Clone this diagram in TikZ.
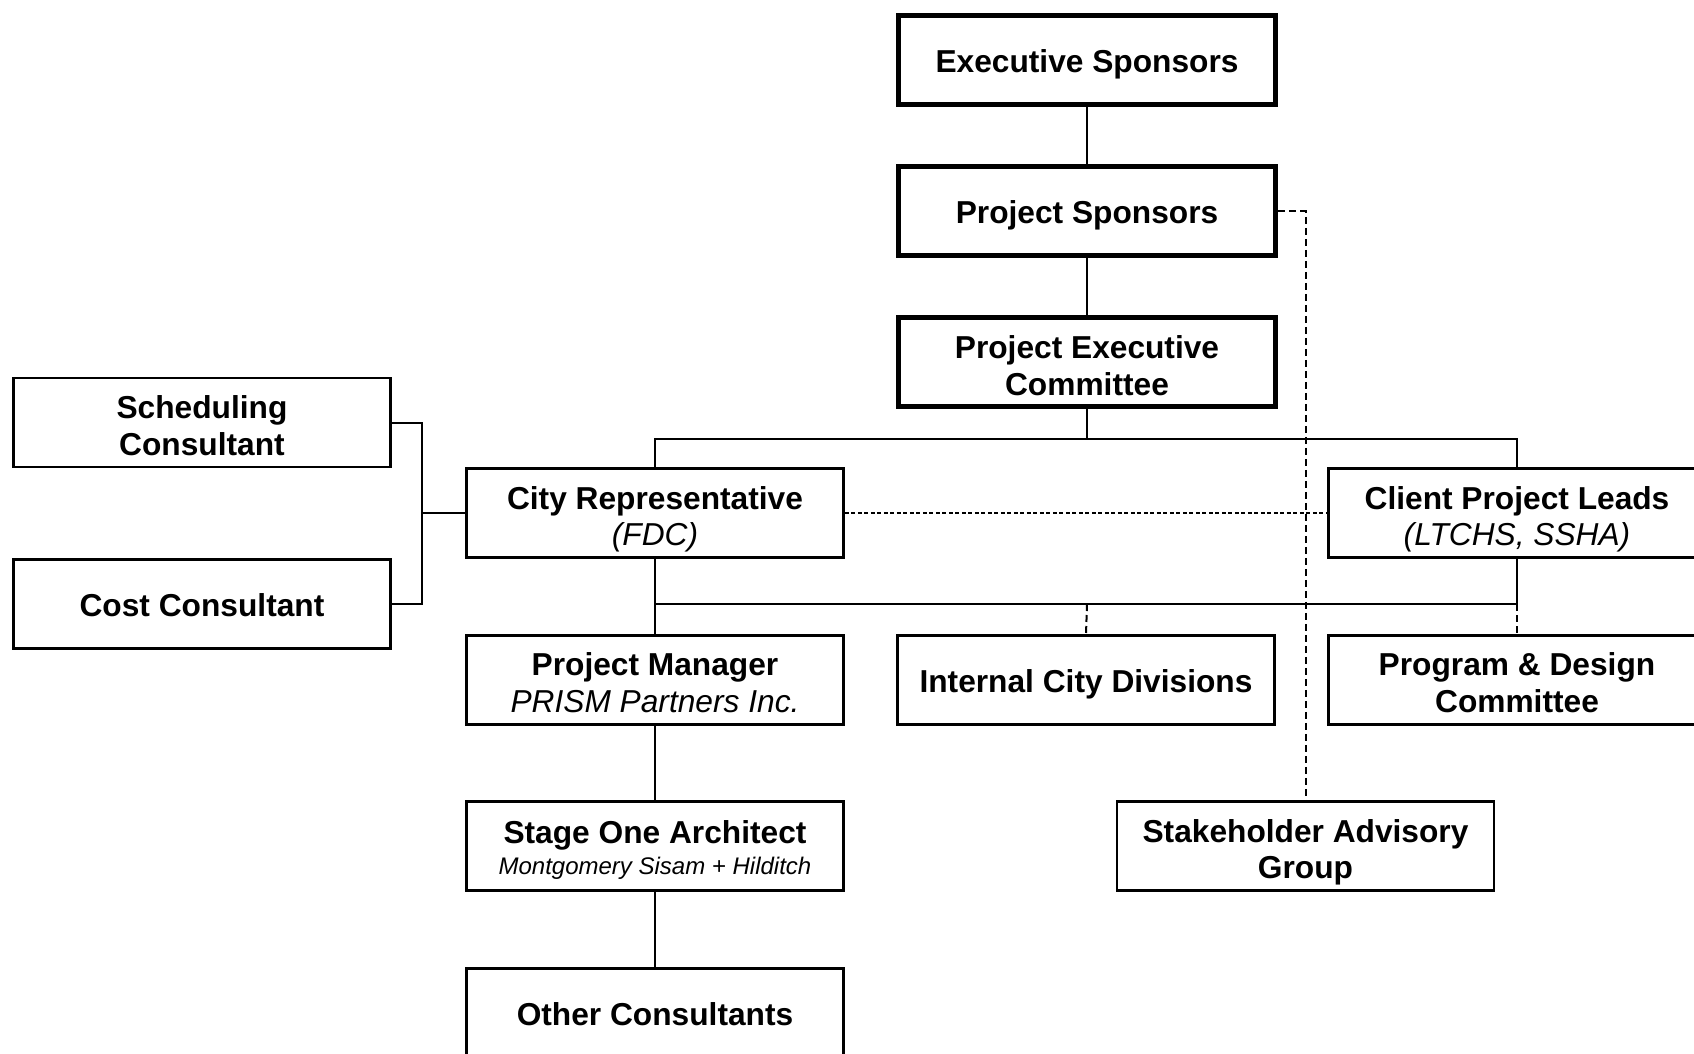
\documentclass[tikz,border=0pt]{standalone}
\usepackage{fontspec}
\setmainfont{Liberation Sans}
\newcommand\bxt[2]{\raisebox{-#1pt}[0pt][0pt]{\begin{tabular}[t]{@{}c@{}}#2\end{tabular}}}
\begin{document}
\begin{tikzpicture}[x=1pt,y=-1pt,
 box/.style={draw, line width=2.5pt, minimum width=377pt, minimum height=89pt, inner sep=0pt, font=\fontsize{31.7}{36.5}\selectfont\bfseries},
 thickbox/.style={box, line width=5.5pt},
 conn/.style={line width=2pt},
 dconn/.style={line width=2pt, dash pattern=on 7pt off 4pt},
 fconn/.style={line width=2pt, dash pattern=on 4pt off 2.5pt}]
\useasboundingbox (0,0) rectangle (1694,1054);
\fill[white] (0,0) rectangle (1694,1054);
\node[thickbox] (es) at (1087,60) {\bxt{12.5}{Executive Sponsors}};
\node[thickbox] (ps) at (1087,211) {\bxt{12}{Project Sponsors}};
\node[thickbox] (pec) at (1087,362) {\bxt{-3.5}{Project Executive\\Committee}};
\node[box] (sc) at (202,422.5) {\bxt{-4}{Scheduling\\Consultant}};
\node[box] (cc) at (202,604) {\bxt{12}{Cost Consultant}};
\node[box] (cr) at (655,513) {\bxt{-4}{City Representative\\{\mdseries\itshape (FDC)}}};
\node[box] (cpl) at (1517,513) {\bxt{-4}{Client Project Leads\\{\mdseries\itshape (LTCHS, SSHA)}}};
\node[box] (pm) at (655,680) {\bxt{-4.5}{Project Manager\\{\mdseries\itshape PRISM Partners Inc.}}};
\node[box] (icd) at (1086,680) {\bxt{12.5}{Internal City Divisions}};
\node[box] (pdc) at (1517,680) {\bxt{-4.5}{Program \& Design\\Committee}};
\node[box] (so) at (655,846) {\bxt{-3}{Stage One Architect\\[-5.5pt]{\fontsize{24}{28}\selectfont\mdseries\itshape Montgomery Sisam + Hilditch}}};
\node[box] (sag) at (1305.5,846) {\bxt{-4}{Stakeholder Advisory\\Group}};
\node[box] (oc) at (655,1013) {\bxt{12.5}{Other Consultants}};
\coordinate (top) at (1087,439);
\coordinate (low) at (1087,604);
\coordinate (br) at (422,513);
\draw[conn] (es) -- (ps);
\draw[conn] (ps) -- (pec);
\draw[conn] (pec.south) -- (top);
\draw[conn] (cr.north) -- (cr.north |- top) -- (cpl.north |- top) -- (cpl.north);
\draw[conn] (cr.south) -- (pm.north);
\draw[conn] (cr.south |- low) -- (cpl.south |- low) -- (cpl.south);
\draw[dconn] (low) -- (icd.north);
\draw[dconn] (cpl.south |- low) -- (pdc.north);
\draw[conn] (pm) -- (so);
\draw[conn] (so) -- (oc);
\draw[conn] (sc.east) -- (sc.east -| br) -- (cc.east -| br) -- (cc.east);
\draw[conn] (br) -- (cr.west);
\draw[fconn] (cr.east) -- (cpl.west);
\draw[dconn] (ps.east) -| (sag.north);
\end{tikzpicture}
\end{document}
